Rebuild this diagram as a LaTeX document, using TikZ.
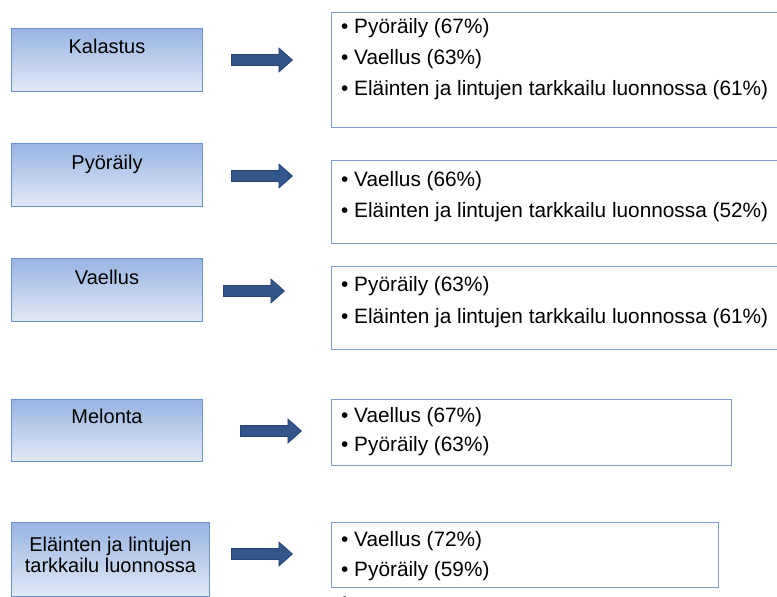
\documentclass[tikz,border=0pt]{standalone}
\usepackage{fontspec}
\setmainfont{Liberation Sans}
\usetikzlibrary{positioning,shapes.arrows}
\definecolor{boxtop}{RGB}{152,180,226}
\definecolor{boxbot}{RGB}{226,233,246}
\definecolor{boxline}{RGB}{108,146,206}
\definecolor{listline}{RGB}{128,158,210}
\definecolor{arrdark}{RGB}{50,86,138}
\definecolor{arrmid}{RGB}{84,130,192}
\definecolor{arrline}{RGB}{40,68,115}

\begin{document}
\begin{tikzpicture}[x=1pt,y=-1pt,
  lbox/.style={rectangle,draw=boxline,line width=1pt,top color=boxtop,bottom color=boxbot,anchor=north west,minimum width=191pt,minimum height=63pt,inner sep=0pt},
  ltext/.style={font=\fontsize{20}{21}\selectfont,inner sep=0pt,align=center},
  rbox/.style={rectangle,draw=listline,line width=0.9pt,anchor=north west,inner sep=0pt},
  item/.style={font=\fontsize{20.8}{24}\selectfont,anchor=base west,inner sep=0pt},
  bigarrow/.style={single arrow,draw=arrline,line width=0.8pt,top color=arrdark,middle color=arrmid,bottom color=arrdark,minimum height=61pt,minimum width=23pt,single arrow head extend=6.5pt,single arrow tip angle=83,inner xsep=0pt,inner ysep=5pt,anchor=tail}]
\useasboundingbox (0,0) rectangle (777,597);
% left column
\node (k) [lbox] at (11,28) {};
\node (p) [lbox] at (11,143) {};
\node (v) [lbox] at (11,258) {};
\node (m) [lbox,minimum height=62pt] at (11,399) {};
\node (e) [lbox,minimum width=198pt,minimum height=74pt] at (11,522) {};
\node (kt) [ltext,below=10.5pt of k.north] {Kalastus};
\node (pt) [ltext,below=11.5pt of p.north] {Pyöräily};
\node (vt) [ltext,below=11.5pt of v.north] {Vaellus};
\node (mt) [ltext,below=9.5pt of m.north] {Melonta};
\node (et) [ltext,below=15pt of e.north] {Eläinten ja lintujen\\tarkkailu luonnossa};
% arrows
\node (ka) [bigarrow] at (231,60) {};
\node (pa) [bigarrow] at (231,176) {};
\node (va) [bigarrow] at (223,291) {};
\node (ma) [bigarrow] at (240,431) {};
\node (ea) [bigarrow] at (231,554) {};
% right column
\node (K) [rbox,minimum width=460pt,minimum height=115pt] at (331,12) {};
\node (P) [rbox,minimum width=460pt,minimum height=83pt] at (331,160) {};
\node (V) [rbox,minimum width=460pt,minimum height=83pt] at (331,266) {};
\node (M) [rbox,minimum width=400pt,minimum height=66pt] at (331,399) {};
\node (E) [rbox,minimum width=387pt,minimum height=65pt] at (331,522) {};
\node (K1) [item] at (341,33) {• Pyöräily (67\%)};
\node (K2) [item] at (341,64) {• Vaellus (63\%)};
\node (K3) [item] at (341,95) {• Eläinten ja lintujen tarkkailu luonnossa (61\%)};
\node (P1) [item] at (341,186) {• Vaellus (66\%)};
\node (P2) [item] at (341,217) {• Eläinten ja lintujen tarkkailu luonnossa (52\%)};
\node (V1) [item] at (341,291) {• Pyöräily (63\%)};
\node (V2) [item] at (341,323) {• Eläinten ja lintujen tarkkailu luonnossa (61\%)};
\node (M1) [item] at (341,422) {• Vaellus (67\%)};
\node (M2) [item] at (341,451) {• Pyöräily (63\%)};
\node (E1) [item] at (341,546) {• Vaellus (72\%)};
\node (E2) [item] at (341,576) {• Pyöräily (59\%)};
\node (E3) [item] at (341,606) {•};
\end{tikzpicture}
\end{document}
